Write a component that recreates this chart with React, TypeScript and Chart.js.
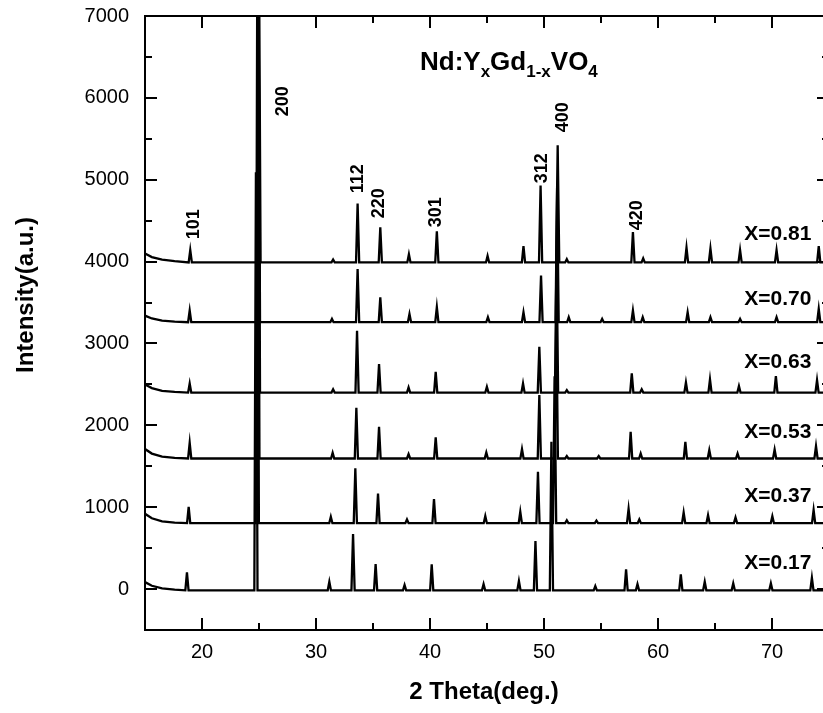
import React, { useEffect, useRef } from 'react';
import { Chart, registerables } from 'chart.js';

Chart.register(...registerables);

// Composition of each pattern (top to bottom)
const compositions = ['X=0.81', 'X=0.70', 'X=0.63', 'X=0.53', 'X=0.37', 'X=0.17'];

// Flat background level of each offset pattern
const baselines = [3990, 3260, 2400, 1595, 805, -15];

// Low-angle background tail (angles shared by every pattern)
const bgAngles = [15, 15.6, 16.5, 17.6];
const bg081 = [4100, 4055, 4025, 4005];
const bg070 = [3340, 3305, 3280, 3268];
const bg063 = [2500, 2455, 2422, 2408];
const bg053 = [1710, 1655, 1618, 1603];
const bg037 = [920, 865, 828, 812];
const bg017 = [85, 40, 8, -7];

// Peak positions (2θ, deg.) and peak-top intensities of each pattern
const peaks081 = [18.97, 25.0, 31.5, 33.65, 35.64, 38.15, 40.6, 45.05, 48.2, 49.7, 51.2, 52.0, 57.8, 58.7, 62.5, 64.6, 67.2, 70.4, 74.1];
const tops081 = [4140, 7800, 4025, 4710, 4420, 4090, 4370, 4070, 4190, 4930, 5420, 4030, 4360, 4040, 4170, 4160, 4140, 4140, 4190];

const peaks070 = [18.92, 24.95, 31.4, 33.65, 35.64, 38.2, 40.6, 45.08, 48.2, 49.74, 51.15, 52.17, 55.1, 57.8, 58.66, 62.6, 64.6, 67.2, 70.4, 74.1];
const tops070 = [3403, 7700, 3300, 3910, 3565, 3360, 3443, 3321, 3382, 3830, 4900, 3320, 3300, 3403, 3320, 3382, 3321, 3300, 3321, 3423];

const peaks063 = [18.92, 24.95, 31.5, 33.6, 35.53, 38.12, 40.5, 44.99, 48.16, 49.59, 51.1, 52.0, 57.7, 58.57, 62.45, 64.56, 67.1, 70.34, 73.95];
const tops063 = [2512, 7700, 2440, 3154, 2747, 2463, 2653, 2470, 2512, 2958, 4100, 2430, 2634, 2440, 2524, 2561, 2479, 2601, 2552];

const peaks053 = [18.92, 24.9, 31.46, 33.54, 35.53, 38.12, 40.5, 44.94, 48.07, 49.59, 51.08, 52.0, 54.8, 57.6, 58.48, 62.4, 64.5, 66.98, 70.23, 73.86];
const tops053 = [1787, 7600, 1665, 2214, 1982, 1648, 1852, 1669, 1710, 2369, 3400, 1625, 1625, 1921, 1656, 1799, 1697, 1656, 1705, 1746];

const peaks037 = [18.83, 24.85, 31.3, 33.45, 35.44, 37.98, 40.35, 44.85, 47.92, 49.47, 50.93, 52.0, 54.6, 57.42, 58.36, 62.25, 64.39, 66.8, 70.03, 73.65];
const tops037 = [1005, 7600, 884, 1474, 1168, 851, 1099, 892, 944, 1432, 2600, 840, 835, 980, 851, 936, 903, 875, 891, 965];

const peaks017 = [18.68, 24.73, 31.17, 33.25, 35.23, 37.77, 40.15, 44.7, 47.8, 49.25, 50.65, 54.5, 57.2, 58.2, 62.0, 64.1, 66.6, 69.9, 73.5];
const tops017 = [204, 5090, 89, 672, 305, 49, 301, 61, 98, 586, 1800, 37, 240, 61, 179, 89, 70, 70, 138];

// Miller-index annotations: label, centre angle, level of the label's lower end
const hklLabels = ['101', '200', '112', '220', '301', '312', '400', '420'];
const hklAngles = [19.32, 27.13, 33.66, 35.51, 40.55, 49.85, 51.69, 58.18];
const hklLevels = [4274, 5775, 4835, 4530, 4420, 4957, 5580, 4383];

// Composition label anchors (right edge angle, centre level)
const compLabelAngle = 73.45;
const compLabelLevels = [4335, 3540, 2772, 1917, 1135, 317];

// Axis ticks
const xMajorTicks = [20, 30, 40, 50, 60, 70];
const xMinorTicks = [25, 35, 45, 55, 65];
const yMajorTicks = [0, 1000, 2000, 3000, 4000, 5000, 6000, 7000];
const yMinorTicks = [-500, 500, 1500, 2500, 3500, 4500, 5500, 6500];

const X_MIN = 15;
const X_MAX = 75;
const Y_MIN = -500;
const Y_MAX = 7000;

const seriesPeaks = [peaks081, peaks070, peaks063, peaks053, peaks037, peaks017];
const seriesTops = [tops081, tops070, tops063, tops053, tops037, tops017];
const seriesBg = [bg081, bg070, bg063, bg053, bg037, bg017];

const PEAK_HALF_WIDTH = 0.14;

function buildPattern(i: number) {
  const base = baselines[i];
  const pts: { x: number; y: number }[] = [];
  bgAngles.forEach((a, k) => pts.push({ x: a, y: seriesBg[i][k] }));
  seriesPeaks[i].forEach((a, k) => {
    pts.push({ x: a - PEAK_HALF_WIDTH, y: base });
    pts.push({ x: a, y: seriesTops[i][k] });
    pts.push({ x: a + PEAK_HALF_WIDTH, y: base });
  });
  pts.push({ x: X_MAX, y: base });
  return pts;
}

const FONT = '"Liberation Sans", Arial, Helvetica, sans-serif';

const framePlugin = {
  id: 'xrdFrame',
  afterDraw(chart: any) {
    const { ctx, chartArea } = chart;
    const { left, right, top, bottom } = chartArea;
    const xs = chart.scales.x;
    const ys = chart.scales.y;
    ctx.save();
    ctx.strokeStyle = '#000';
    ctx.fillStyle = '#000';

    // frame
    ctx.lineWidth = 2;
    ctx.strokeRect(left, top, right - left, bottom - top);

    // inward ticks on all four sides
    const MAJ = 12;
    const MIN = 7;
    ctx.beginPath();
    const xTick = (v: number, len: number) => {
      const px = Math.round(xs.getPixelForValue(v));
      ctx.moveTo(px, bottom);
      ctx.lineTo(px, bottom - len);
      ctx.moveTo(px, top);
      ctx.lineTo(px, top + len);
    };
    const yTick = (v: number, len: number) => {
      const py = Math.round(ys.getPixelForValue(v));
      ctx.moveTo(left, py);
      ctx.lineTo(left + len, py);
      ctx.moveTo(right, py);
      ctx.lineTo(right - len, py);
    };
    xMajorTicks.forEach((v) => xTick(v, MAJ));
    xMinorTicks.forEach((v) => xTick(v, MIN));
    yMajorTicks.forEach((v) => yTick(v, MAJ));
    yMinorTicks.forEach((v) => yTick(v, MIN));
    ctx.stroke();

    // tick labels
    ctx.font = `20px ${FONT}`;
    ctx.textAlign = 'center';
    ctx.textBaseline = 'middle';
    xMajorTicks.forEach((v) => ctx.fillText(String(v), xs.getPixelForValue(v), bottom + 22));
    ctx.textAlign = 'right';
    yMajorTicks.forEach((v) => ctx.fillText(String(v), left - 16, ys.getPixelForValue(v)));

    // axis titles
    ctx.font = `bold 24px ${FONT}`;
    ctx.textAlign = 'center';
    ctx.fillText('2 Theta(deg.)', (left + right) / 2 - 3, bottom + 62);
    ctx.save();
    ctx.translate(26, 295);
    ctx.rotate(-Math.PI / 2);
    ctx.fillText('Intensity(a.u.)', 0, 0);
    ctx.restore();

    // Miller indices
    ctx.font = `bold 18px ${FONT}`;
    hklLabels.forEach((t, k) => {
      ctx.save();
      ctx.translate(xs.getPixelForValue(hklAngles[k]), ys.getPixelForValue(hklLevels[k]));
      ctx.rotate(-Math.PI / 2);
      ctx.textAlign = 'left';
      ctx.textBaseline = 'middle';
      ctx.fillText(t, 0, 0);
      ctx.restore();
    });

    // composition labels
    ctx.font = `bold 21px ${FONT}`;
    ctx.textAlign = 'right';
    ctx.textBaseline = 'middle';
    compositions.forEach((t, k) => {
      ctx.fillText(t, xs.getPixelForValue(compLabelAngle), ys.getPixelForValue(compLabelLevels[k]));
    });

    // formula with subscripts
    const big = `bold 26px ${FONT}`;
    const small = `bold 17px ${FONT}`;
    const parts: [string, boolean][] = [
      ['Nd:Y', false], ['x', true], ['Gd', false], ['1-x', true], ['VO', false], ['4', true],
    ];
    let cx = 420;
    const baseY = 70;
    ctx.textAlign = 'left';
    ctx.textBaseline = 'alphabetic';
    parts.forEach(([s, sub]) => {
      ctx.font = sub ? small : big;
      ctx.fillText(s, cx, sub ? baseY + 7 : baseY);
      cx += ctx.measureText(s).width;
    });

    ctx.restore();
  },
};

export default function App() {
  const canvasRef = useRef<HTMLCanvasElement | null>(null);

  useEffect(() => {
    const canvas = canvasRef.current;
    if (!canvas) return;
    const chart = new Chart(canvas, {
      type: 'line',
      data: {
        datasets: compositions.map((c, i) => ({
          label: c,
          data: buildPattern(i),
          borderColor: '#000',
          borderWidth: 2.3,
          pointRadius: 0,
          tension: 0,
          fill: false,
        })),
      },
      options: {
        responsive: false,
        animation: false,
        devicePixelRatio: 1,
        events: [],
        layout: { padding: { left: 145, right: 6, top: 16, bottom: 83 } },
        plugins: { legend: { display: false }, tooltip: { enabled: false } },
        scales: {
          x: { type: 'linear', min: X_MIN, max: X_MAX, display: false },
          y: { type: 'linear', min: Y_MIN, max: Y_MAX, display: false },
        },
      },
      plugins: [framePlugin],
    });
    return () => chart.destroy();
  }, []);

  return (
    <div
      style={{
        position: 'fixed',
        left: 0,
        top: 0,
        width: 823,
        height: 713,
        overflow: 'hidden',
        background: '#fff',
      }}
    >
      <canvas ref={canvasRef} width={835} height={713} style={{ display: 'block' }} />
    </div>
  );
}
